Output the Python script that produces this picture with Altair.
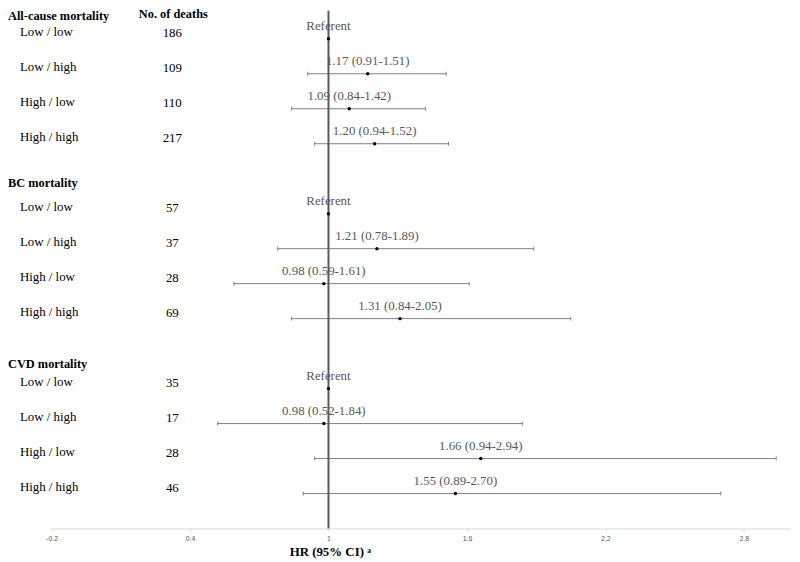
import altair as alt
import pandas as pd

# ---- data ----
groups = ["All-cause mortality", "BC mortality", "CVD mortality"]
categories = ["Low / low", "Low / high", "High / low", "High / high"]

deaths_all = [186, 109, 110, 217]
deaths_bc = [57, 37, 28, 69]
deaths_cvd = [35, 17, 28, 46]

hr_all = [1.00, 1.17, 1.09, 1.20]
lo_all = [None, 0.91, 0.84, 0.94]
hi_all = [None, 1.51, 1.42, 1.52]

hr_bc = [1.00, 1.21, 0.98, 1.31]
lo_bc = [None, 0.78, 0.59, 0.84]
hi_bc = [None, 1.89, 1.61, 2.05]

hr_cvd = [1.00, 0.98, 1.66, 1.55]
lo_cvd = [None, 0.52, 0.94, 0.89]
hi_cvd = [None, 1.84, 2.94, 2.70]

x_ticks = [-0.2, 0.4, 1, 1.6, 2.2, 2.8]

# ---- table ----
series = [
    (deaths_all, hr_all, lo_all, hi_all),
    (deaths_bc, hr_bc, lo_bc, hi_bc),
    (deaths_cvd, hr_cvd, lo_cvd, hi_cvd),
]
rows = []
for g, (d, h, lo, hi) in enumerate(series):
    for i, cat in enumerate(categories):
        label = "Referent" if lo[i] is None else f"{h[i]:.2f} ({lo[i]:.2f}-{hi[i]:.2f})"
        rows.append(dict(group=groups[g], cat=cat, deaths=d[i], hr=h[i],
                         lo=lo[i], hi=hi[i], label=label, slot=g * 5 + i + 1))
df = pd.DataFrame(rows)
df_ci = df.dropna(subset=["lo"])

SERIF = "Liberation Serif"

xscale = alt.Scale(domain=[-0.2, 3.0], nice=False, zero=False)
yscale = alt.Scale(domain=[0.2, 15], reverse=True, nice=False, zero=False)
Y = alt.Y("slot:Q", scale=yscale, axis=None)

xaxis = alt.Axis(
    values=x_ticks, grid=False, domainColor="#d9d9d9", tickColor="#d9d9d9",
    tickSize=3, labelFontSize=7, labelColor="#595959", labelFont="Liberation Sans",
    labelPadding=3, labelFlush=False, labelExpr="'' + datum.value",
    title="HR (95% CI) \u1d43", titleFont=SERIF, titleFontSize=13,
    titleFontWeight="bold", titleColor="#000000", titleAnchor="start",
    titleAlign="left", titleX=240, titleY=27, titleBaseline="alphabetic",
)

base = alt.Chart(df)

vline = alt.Chart(pd.DataFrame({"v": [1]})).mark_rule(color="#595959", strokeWidth=2).encode(
    x=alt.X("v:Q", scale=xscale, axis=xaxis)
)

ci = alt.Chart(df_ci).mark_rule(color="#808080", strokeWidth=1).encode(
    x=alt.X("lo:Q", scale=xscale, axis=xaxis), x2="hi:Q", y=Y,
)
cap_lo = alt.Chart(df_ci).mark_tick(color="#555555", thickness=1, size=4, orient="vertical").encode(
    x=alt.X("lo:Q", scale=xscale), y=Y
)
cap_hi = alt.Chart(df_ci).mark_tick(color="#555555", thickness=1, size=4, orient="vertical").encode(
    x=alt.X("hi:Q", scale=xscale), y=Y
)
dots = base.mark_point(filled=True, color="#000000", size=12, opacity=1).encode(
    x=alt.X("hr:Q", scale=xscale), y=Y
)
hr_text = base.mark_text(font=SERIF, fontSize=13, color="#595959", align="center",
                         baseline="middle", dy=-12.5).encode(
    x=alt.X("hr:Q", scale=xscale), y=Y, text="label:N"
)
cat_text = base.mark_text(font=SERIF, fontSize=13, color="#000000", align="left",
                          baseline="middle", dy=-6.5).encode(
    x=alt.value(-32), y=Y, text="cat:N"
)
num_text = base.mark_text(font=SERIF, fontSize=13, color="#000000", align="center",
                          baseline="middle", dy=-5.5).encode(
    x=alt.value(122), y=Y, text="deaths:Q"
)

# section headers, one text layer each (slot before each block)
header_dy = [12, 4.5, 10.5]
head_layers = []
for g, name in enumerate(groups):
    head_layers.append(
        alt.Chart(pd.DataFrame({"group": [name], "slot": [g * 5]})).mark_text(
            font=SERIF, fontSize=12.5, fontWeight="bold", color="#000000",
            align="left", baseline="middle", dy=header_dy[g]
        ).encode(x=alt.value(-44), y=Y, text="group:N")
    )
col_text = alt.Chart(pd.DataFrame({"text": ["No. of deaths"], "slot": [0]})).mark_text(
    font=SERIF, fontSize=12.5, fontWeight="bold", color="#000000", align="center",
    baseline="middle", dy=10.5
).encode(x=alt.value(123), y=Y, text="text:N")

chart = alt.layer(
    ci, vline, cap_lo, cap_hi, dots, hr_text, cat_text, num_text, *head_layers, col_text
).properties(
    width=746, height=523,
    autosize=alt.AutoSizeParams(type="none"),
    padding={"left": 44, "top": 0, "right": 2, "bottom": 31},
    background="#ffffff",
).configure_view(strokeWidth=0, stroke="transparent")

chart.save("out.html", embed_options={"renderer": "svg", "actions": False})
